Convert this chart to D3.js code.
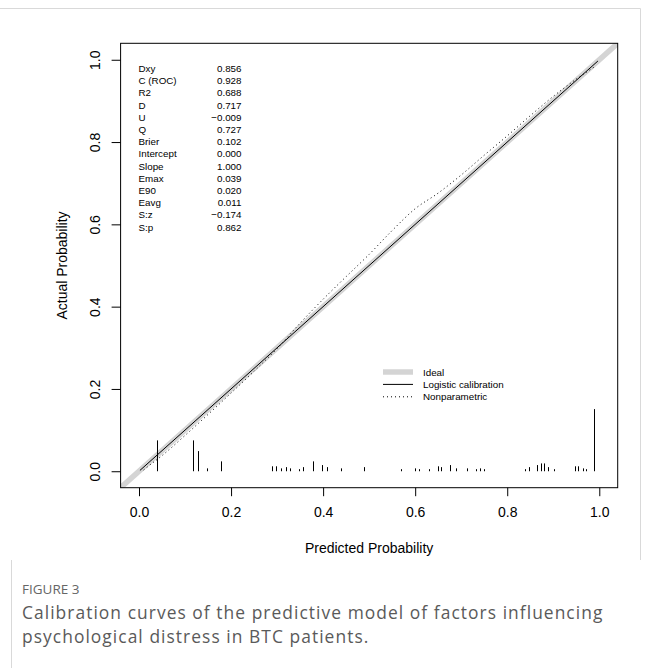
<!DOCTYPE html>
<html>
<head>
<meta charset="utf-8">
<script src="https://cdn.jsdelivr.net/npm/d3@7/dist/d3.min.js"></script>
<style>
  html, body { margin: 0; padding: 0; background: #fff; }
  svg { display: block; }
</style>
</head>
<body>
<script>
// ---------- data ----------
const xTicks = [0, 0.2, 0.4, 0.6, 0.8, 1.0];
const yTicks = [0, 0.2, 0.4, 0.6, 0.8, 1.0];

const statNames = ["Dxy", "C (ROC)", "R2", "D", "U", "Q", "Brier", "Intercept", "Slope", "Emax", "E90", "Eavg", "S:z", "S:p"];
const statValues = ["0.856", "0.928", "0.688", "0.717", "\u22120.009", "0.727", "0.102", "0.000", "1.000", "0.039", "0.020", "0.011", "\u22120.174", "0.862"];

const idealX = [-0.04, 1.04];
const logisticX = [0.002, 0.997];
const logisticY = [0.002, 0.997];

const nonparX = [0.01, 0.02, 0.05, 0.10, 0.15, 0.20, 0.25, 0.30, 0.35, 0.40, 0.45, 0.50, 0.55, 0.60, 0.65, 0.70, 0.75, 0.80, 0.85, 0.90, 0.95, 0.99];
const nonparY = [0.003, 0.012, 0.038, 0.087, 0.138, 0.190, 0.243, 0.298, 0.360, 0.418, 0.473, 0.527, 0.585, 0.638, 0.676, 0.720, 0.768, 0.815, 0.864, 0.911, 0.953, 0.983];

const spikeX = [0.038, 0.118, 0.129, 0.148, 0.178, 0.288, 0.297, 0.308, 0.319, 0.328, 0.348, 0.357, 0.379, 0.398, 0.408, 0.439, 0.489, 0.569, 0.600, 0.609, 0.629, 0.649, 0.656, 0.676, 0.689, 0.712, 0.732, 0.741, 0.750, 0.839, 0.847, 0.864, 0.873, 0.880, 0.889, 0.902, 0.947, 0.954, 0.965, 0.971, 0.989];
const spikeH = [0.075, 0.075, 0.049, 0.007, 0.024, 0.012, 0.012, 0.007, 0.010, 0.007, 0.005, 0.010, 0.024, 0.015, 0.010, 0.007, 0.010, 0.005, 0.007, 0.005, 0.005, 0.012, 0.010, 0.015, 0.007, 0.007, 0.005, 0.007, 0.005, 0.005, 0.010, 0.015, 0.019, 0.019, 0.010, 0.005, 0.012, 0.012, 0.007, 0.005, 0.151];

const legendLabels = ["Ideal", "Logistic calibration", "Nonparametric"];
const xTitle = "Predicted Probability";
const yTitle = "Actual Probability";
const figLabel = "FIGURE 3";
const captionLines = ["Calibration curves of the predictive model of factors influencing", "psychological distress in BTC patients."];

// ---------- layout ----------
const W = 654, H = 668;
const box = { left: 120.6, right: 617.7, top: 43.3, bottom: 487.7 };
const font = "'Liberation Sans', Arial, Helvetica, sans-serif";

const svg = d3.select("body").append("svg").attr("width", W).attr("height", H);

// figure frame
const frameCol = "#d9d9d9";
svg.append("line").attr("x1", 0).attr("x2", 640.5).attr("y1", 8.5).attr("y2", 8.5).attr("stroke", frameCol);
svg.append("line").attr("x1", 640.5).attr("x2", 640.5).attr("y1", 8.5).attr("y2", 560).attr("stroke", frameCol);
svg.append("line").attr("x1", 11.5).attr("x2", 11.5).attr("y1", 560).attr("y2", H).attr("stroke", frameCol);

const x = d3.scaleLinear().domain([-0.04, 1.04]).range([box.left, box.right]);
const y = d3.scaleLinear().domain([-0.04, 1.04]).range([box.bottom, box.top]);

// clip
svg.append("clipPath").attr("id", "plotclip").append("rect")
  .attr("x", box.left).attr("y", box.top)
  .attr("width", box.right - box.left).attr("height", box.bottom - box.top);

const plot = svg.append("g").attr("clip-path", "url(#plotclip)");

// ideal line
plot.append("line")
  .attr("x1", x(idealX[0])).attr("y1", y(idealX[0]))
  .attr("x2", x(idealX[1])).attr("y2", y(idealX[1]))
  .attr("stroke", "#d4d4d4").attr("stroke-width", 5.5);

// logistic calibration
const line = d3.line().x(d => x(d[0])).y(d => y(d[1]));
plot.append("path")
  .datum(logisticX.map((v, i) => [v, logisticY[i]]))
  .attr("d", line).attr("fill", "none").attr("stroke", "#000").attr("stroke-width", 1);

// nonparametric
plot.append("path")
  .datum(nonparX.map((v, i) => [v, nonparY[i]]))
  .attr("d", d3.line().curve(d3.curveMonotoneX).x(d => x(d[0])).y(d => y(d[1])))
  .attr("fill", "none").attr("stroke", "#000").attr("stroke-width", 1)
  .attr("stroke-dasharray", "1,3");

// spikes
plot.selectAll("line.spike").data(spikeX.map((v, i) => [v, spikeH[i]])).enter()
  .append("line").attr("class", "spike")
  .attr("x1", d => Math.round(x(d[0])) + 0.5).attr("x2", d => Math.round(x(d[0])) + 0.5)
  .attr("y1", y(0)).attr("y2", d => y(d[1]))
  .attr("stroke", "#000").attr("stroke-width", 1);

// box
svg.append("rect")
  .attr("x", box.left).attr("y", box.top)
  .attr("width", box.right - box.left).attr("height", box.bottom - box.top)
  .attr("fill", "none").attr("stroke", "#000").attr("stroke-width", 1);

// axes
const fmt = d3.format(".1f");
const gx = svg.append("g").attr("transform", `translate(0,${box.bottom})`)
  .call(d3.axisBottom(x).tickValues(xTicks).tickSize(8.5).tickPadding(11).tickFormat(fmt));
gx.select(".domain").remove();
gx.selectAll("text").style("font-family", font).style("font-size", "14px").attr("fill", "#000");
gx.selectAll("line").attr("stroke", "#000");

const gy = svg.append("g").attr("transform", `translate(${box.left},0)`)
  .call(d3.axisLeft(y).tickValues(yTicks).tickSize(9).tickFormat(fmt));
gy.select(".domain").remove();
gy.selectAll("line").attr("stroke", "#000");
gy.selectAll("text")
  .attr("x", 0).attr("dy", 0)
  .attr("transform", "translate(-21,0) rotate(-90)")
  .style("text-anchor", "middle")
  .style("font-family", font).style("font-size", "14px").attr("fill", "#000");

// axis titles
svg.append("text").text(xTitle)
  .attr("x", (box.left + box.right) / 2).attr("y", 553)
  .attr("text-anchor", "middle").style("font-family", font).style("font-size", "14px");
svg.append("text").text(yTitle)
  .attr("transform", `translate(67,${(box.top + box.bottom) / 2}) rotate(-90)`)
  .attr("text-anchor", "middle").style("font-family", font).style("font-size", "14px");

// stats block
const statG = svg.append("g").style("font-family", font).style("font-size", "9.8px");
statNames.forEach((n, i) => {
  const yy = 68.5 + i * 12.2 + 3.5;
  statG.append("text").text(n).attr("x", 138.5).attr("y", yy);
  statG.append("text").text(statValues[i]).attr("x", 241.5).attr("y", yy).attr("text-anchor", "end");
});

// legend
const legG = svg.append("g").style("font-family", font).style("font-size", "9.8px");
const legStyles = [
  { stroke: "#d4d4d4", width: 5.5, dash: null },
  { stroke: "#000", width: 1, dash: null },
  { stroke: "#000", width: 1, dash: "1,3" }
];
legendLabels.forEach((lab, i) => {
  const yy = 372 + i * 12.4;
  const s = legStyles[i];
  const l = legG.append("line").attr("x1", 383).attr("x2", 413).attr("y1", yy).attr("y2", yy)
    .attr("stroke", s.stroke).attr("stroke-width", s.width);
  if (s.dash) l.attr("stroke-dasharray", s.dash);
  legG.append("text").text(lab).attr("x", 423).attr("y", yy + 3.5);
});

// caption
svg.append("text").text(figLabel).attr("x", 22).attr("y", 594)
  .style("font-family", "'Open Sans', sans-serif").style("font-size", "13.5px").attr("fill", "#666");
captionLines.forEach((t, i) => {
  svg.append("text").text(t).attr("x", 22).attr("y", 619 + i * 24)
    .style("font-family", "'Open Sans', sans-serif").style("font-size", "17.4px")
    .style("letter-spacing", "1.05px").attr("fill", "#5a5a5a");
});
</script>
</body>
</html>
